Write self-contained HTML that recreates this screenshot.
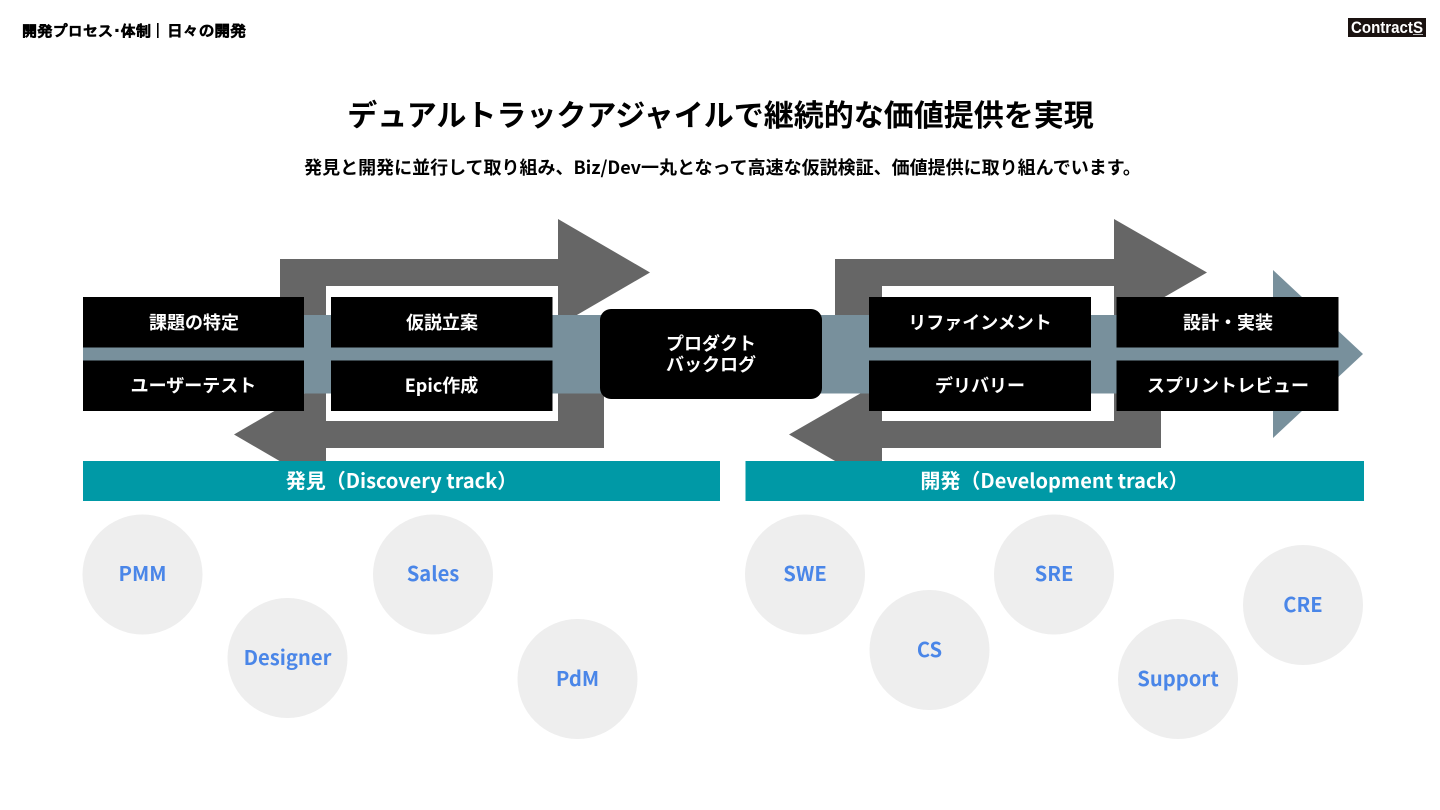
<!DOCTYPE html>
<html lang="ja"><head><meta charset="utf-8"><style>
html,body{margin:0;padding:0;background:#fff}
body{width:1440px;height:810px;overflow:hidden;position:relative}
svg{position:absolute;left:0;top:0}
text{font-family:"Noto Sans CJK JP","Liberation Sans",sans-serif;font-weight:700;text-anchor:middle}
.w{fill:#fff;font-size:18px}
.b{fill:#4a86e8;font-size:20.2px}
.h{text-anchor:start;font-family:"IPAGothic","Noto Sans CJK JP",sans-serif;font-weight:700}
</style></head><body>
<svg width="1440" height="810" viewBox="0 0 1440 810" xmlns="http://www.w3.org/2000/svg">
<!-- gray arrows left -->
<polygon fill="#666" points="280,345 280,259 558,259 558,219 650,272.500 558,326 558,345"/>
<polygon fill="#666" points="604,380 604,448 326,448 326,488 234,434.500 326,381 326,380"/>
<rect x="326" y="286" width="232" height="135" fill="#fff"/>
<!-- gray arrows right -->
<polygon fill="#666" points="835,345 835,259 1114,259 1114,219 1207,272.500 1114,326 1114,345"/>
<polygon fill="#666" points="1161,380 1161,448 882,448 882,488 789,434.500 882,381 882,380"/>
<rect x="882" y="286" width="232" height="135" fill="#fff"/>
<!-- blue arrow -->
<polygon fill="#78909c" points="83,315 1273,315 1273,270 1363,354 1273,438 1273,393.500 83,393.500"/>
<!-- boxes -->
<g fill="#000">
<rect x="83" y="297" width="221" height="50.500"/><rect x="83" y="360.500" width="221" height="50.500"/>
<rect x="331" y="297" width="221.500" height="50.500"/><rect x="331" y="360.500" width="221.500" height="50.500"/>
<rect x="869" y="297" width="222" height="50.500"/><rect x="869" y="360.500" width="222" height="50.500"/>
<rect x="1116.500" y="297" width="222" height="50.500"/><rect x="1116.500" y="360.500" width="222" height="50.500"/>
<rect x="600" y="309" width="222" height="90" rx="11"/>
</g>
<g class="l">
<text class="w" x="194" y="329">課題の特定</text>
<text class="w" x="193.500" y="392">ユーザーテスト</text>
<text class="w" x="442" y="329">仮説立案</text>
<text class="w" x="441.500" y="392">Epic作成</text>
<text class="w" x="711" y="350">プロダクト</text>
<text class="w" x="711" y="371">バックログ</text>
<text class="w" x="980" y="329">リファインメント</text>
<text class="w" x="980" y="392">デリバリー</text>
<text class="w" x="1228" y="329">設計・実装</text>
<text class="w" x="1228" y="392">スプリントレビュー</text>
</g>
<!-- teal -->
<rect x="83" y="461" width="637" height="40" fill="#0099a6"/>
<rect x="745.500" y="461" width="618.500" height="40" fill="#0099a6"/>
<text x="401.500" y="488" fill="#fff" font-size="20">発見（Discovery track）</text>
<text x="1054.500" y="488" fill="#fff" font-size="20">開発（Development track）</text>
<!-- circles -->
<g fill="#eeeeee">
<circle cx="142.500" cy="574.500" r="60"/><circle cx="287.500" cy="658" r="60"/>
<circle cx="433" cy="574.500" r="60"/><circle cx="577.500" cy="679" r="60"/>
<circle cx="805" cy="574.500" r="60"/><circle cx="929.500" cy="650" r="60"/>
<circle cx="1054" cy="574.500" r="60"/><circle cx="1178" cy="679" r="60"/>
<circle cx="1303" cy="605" r="60"/>
</g>
<text class="b" x="142.500" y="581">PMM</text>
<text class="b" x="287.500" y="665">Designer</text>
<text class="b" x="433" y="581">Sales</text>
<text class="b" x="577.500" y="686">PdM</text>
<text class="b" x="805" y="581">SWE</text>
<text class="b" x="929.500" y="657">CS</text>
<text class="b" x="1054" y="581">SRE</text>
<text class="b" x="1178" y="686">Support</text>
<text class="b" x="1303" y="612">CRE</text>
<!-- heading -->
<text x="720.500" y="126" fill="#000" font-size="30">デュアルトラックアジャイルで継続的な価値提供を実現</text>
<text x="722.500" y="174" fill="#000" font-size="18">発見と開発に並行して取り組み、Biz/Dev一丸となって高速な仮説検証、価値提供に取り組んでいます。</text>
<!-- header -->
<text class="h" x="22" y="36.500" fill="#000" stroke="#000" stroke-width="0.500" font-size="15.200">開発プロセス･体制</text>
<rect x="157" y="23" width="1.600" height="15" fill="#000"/>
<text class="h" x="167" y="36.500" fill="#000" stroke="#000" stroke-width="0.500" font-size="15.800">日々の開発</text>
<rect x="1348" y="18" width="78" height="19" fill="#1a1210"/>
<text x="1387" y="33" fill="#fff" font-size="16.500" textLength="72" lengthAdjust="spacingAndGlyphs" style="font-family:'Liberation Sans',sans-serif">ContractS</text>
<rect x="1413" y="34" width="10" height="1" fill="#bbb"/>
</svg>
</body></html>
